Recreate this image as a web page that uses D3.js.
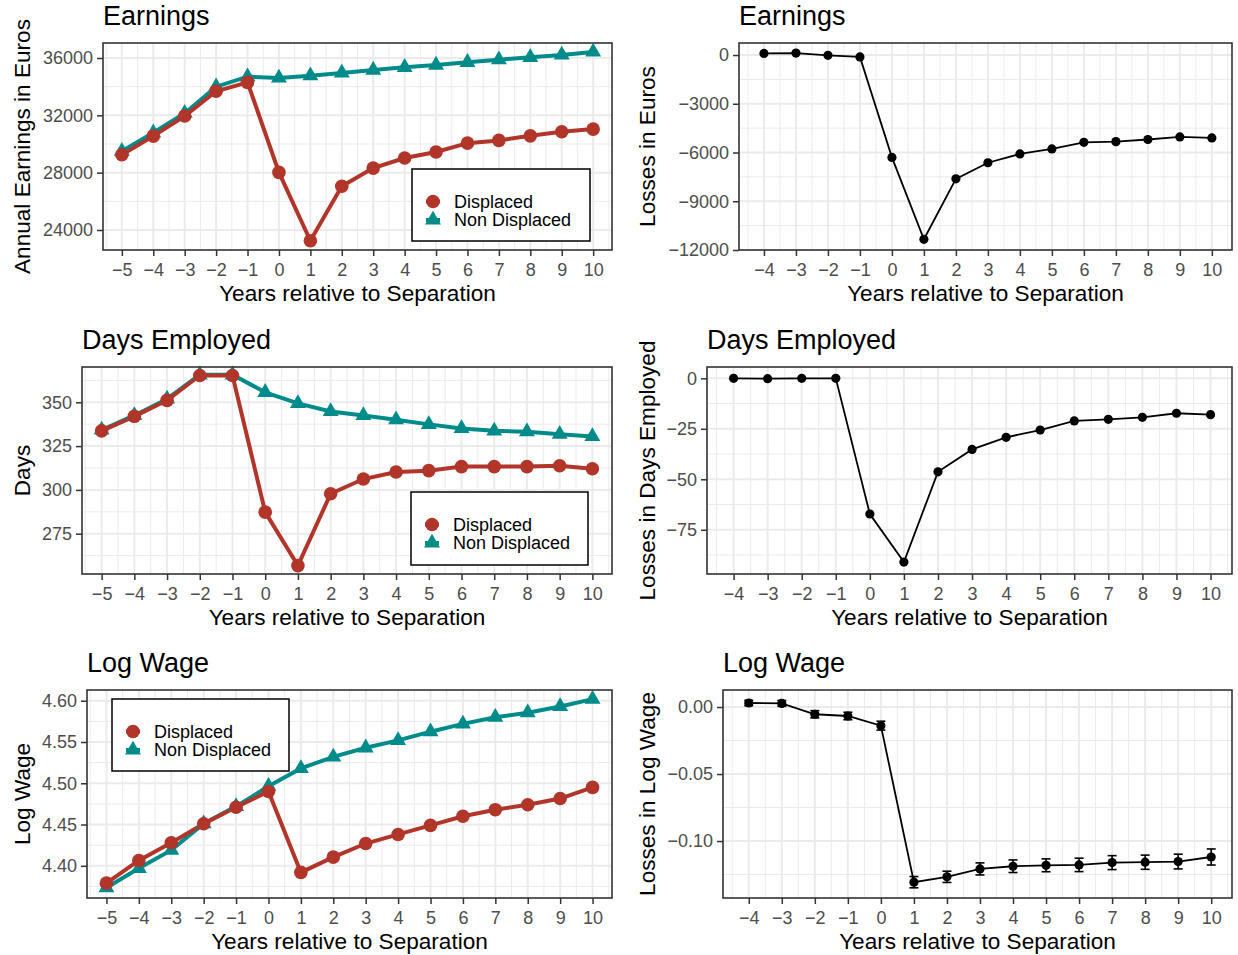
<!DOCTYPE html>
<html>
<head>
<meta charset="utf-8">
<script src="https://cdn.jsdelivr.net/npm/d3@7"></script>
<style>
  body { margin: 0; background: #fff; }
  svg { display: block; font-family: "Liberation Sans", Arial, sans-serif; }
</style>
</head>
<body>
<svg id="chart" width="1238" height="955"></svg>
<script>
// years relative to separation
const yearsLevel = [-5, -4, -3, -2, -1, 0, 1, 2, 3, 4, 5, 6, 7, 8, 9, 10];
const yearsLoss = [-4, -3, -2, -1, 0, 1, 2, 3, 4, 5, 6, 7, 8, 9, 10];

// earnings
const earnDisplaced = [29250, 30550, 31950, 33680, 34300, 28020, 23250, 27050, 28320, 29020, 29440, 30060, 30250, 30570, 30850, 31040];
const earnNonDisplaced = [29500, 30780, 32150, 34000, 34700, 34610, 34770, 34960, 35160, 35350, 35510, 35700, 35880, 36050, 36210, 36420];
const earnLoss = [100, 120, -20, -120, -6300, -11340, -7620, -6630, -6090, -5780, -5370, -5330, -5200, -5040, -5100];

// days employed
const daysDisplaced = [333.7, 342, 351.1, 365.3, 365.3, 287.3, 256.8, 297.8, 306.2, 310.2, 311, 313.3, 313.3, 313.3, 313.8, 312.1];
const daysNonDisplaced = [334.2, 342.5, 351.9, 365.7, 365.7, 355.7, 349.4, 344.8, 342.5, 340.1, 337.4, 335.1, 333.7, 333.2, 331.8, 330.5];
const daysLoss = [0, -0.2, 0, 0, -67.2, -91.0, -46.3, -35.2, -29.2, -25.6, -21.1, -20.3, -19.3, -17.3, -18.0];

// log wage
const wageDisplaced = [4.379, 4.4065, 4.428, 4.451, 4.471, 4.490, 4.392, 4.4105, 4.427, 4.438, 4.449, 4.460, 4.468, 4.474, 4.4815, 4.495];
const wageNonDisplaced = [4.3734, 4.397, 4.419, 4.451, 4.472, 4.4964, 4.518, 4.532, 4.543, 4.552, 4.5625, 4.572, 4.580, 4.5855, 4.593, 4.602];
const wageLoss = [0.0030, 0.0027, -0.0054, -0.0067, -0.0139, -0.1307, -0.1267, -0.1208, -0.1188, -0.1181, -0.1178, -0.1161, -0.1158, -0.1153, -0.1119];
const wageLossSE = [0.002, 0.0022, 0.0027, 0.0028, 0.0033, 0.0042, 0.0042, 0.0045, 0.0047, 0.0048, 0.005, 0.0052, 0.0053, 0.0055, 0.006];

// tick labels
const earnTicks = [24000, 28000, 32000, 36000];
const earnLossTicks = [-12000, -9000, -6000, -3000, 0];
const daysTicks = [275, 300, 325, 350];
const daysLossTicks = [-75, -50, -25, 0];
const wageTicks = [4.40, 4.45, 4.50, 4.55, 4.60];
const wageLossTicks = [-0.10, -0.05, 0.00];

const seriesNames = ["Displaced", "Non Displaced"];
const RED = "#B2352A", TEAL = "#008B8B";

const svg = d3.select("#chart");
svg.append("rect").attr("width", 1238).attr("height", 955).attr("fill", "#fff");

function minorOf(ticks, domain) {
    const step = ticks[1] - ticks[0];
    const out = [];
    for (let i = -1; i < ticks.length; i++) {
        const m = ticks[0] + step * (i + 0.5);
        if (m >= domain[0] && m <= domain[1]) out.push(m);
    }
    return out;
}

function frame(o) {
    const x = d3.scaleLinear().domain(o.xDomain).range([o.box.left, o.box.right]);
    const y = d3.scaleLinear().domain(o.yDomain).range([o.box.bottom, o.box.top]);
    const g = svg.append("g");
    const grid = g.append("g");

    grid.selectAll(".xmin").data(minorOf(o.xTicks, o.xDomain)).join("line")
        .attr("x1", d => x(d)).attr("x2", d => x(d))
        .attr("y1", o.box.top).attr("y2", o.box.bottom)
        .attr("stroke", "#ebebeb").attr("stroke-width", 1);
    grid.selectAll(".ymin").data(minorOf(o.yTicks, o.yDomain)).join("line")
        .attr("y1", d => y(d)).attr("y2", d => y(d))
        .attr("x1", o.box.left).attr("x2", o.box.right)
        .attr("stroke", "#ebebeb").attr("stroke-width", 1);
    grid.selectAll(".xmaj").data(o.xTicks).join("line")
        .attr("x1", d => x(d)).attr("x2", d => x(d))
        .attr("y1", o.box.top).attr("y2", o.box.bottom)
        .attr("stroke", "#ebebeb").attr("stroke-width", 2);
    grid.selectAll(".ymaj").data(o.yTicks).join("line")
        .attr("y1", d => y(d)).attr("y2", d => y(d))
        .attr("x1", o.box.left).attr("x2", o.box.right)
        .attr("stroke", "#ebebeb").attr("stroke-width", 2);

    const data = g.append("g");

    // axes
    const ax = g.append("g").attr("transform", `translate(0,${o.box.bottom})`)
        .call(d3.axisBottom(x).tickValues(o.xTicks).tickSize(6).tickPadding(7).tickFormat(d3.format("d")));
    const ay = g.append("g").attr("transform", `translate(${o.box.left},0)`)
        .call(d3.axisLeft(y).tickValues(o.yTicks).tickSize(6).tickPadding(4).tickFormat(o.yFormat));
    [ax, ay].forEach(a => {
        a.select(".domain").remove();
        a.selectAll(".tick line").attr("stroke", "#333").attr("stroke-width", 1.5);
        a.selectAll(".tick text").attr("fill", "#4d4d4d").attr("font-size", 18)
            .attr("font-family", "'Liberation Sans', Arial, sans-serif");
    });

    g.append("text").attr("x", o.box.left).attr("y", o.box.top - 18)
        .attr("font-size", 27).attr("fill", "#000").text(o.title);
    g.append("text").attr("x", (o.box.left + o.box.right) / 2).attr("y", o.box.bottom + 51)
        .attr("text-anchor", "middle").attr("font-size", 22.6).attr("fill", "#000")
        .text("Years relative to Separation");
    g.append("text")
        .attr("transform", `translate(${o.yLabelX},${(o.box.top + o.box.bottom) / 2}) rotate(-90)`)
        .attr("text-anchor", "middle").attr("dy", "0.35em")
        .attr("font-size", 22.6).attr("fill", "#000").text(o.yLabel);

    const top = g.append("g");
    top.append("rect")
        .attr("x", o.box.left).attr("y", o.box.top)
        .attr("width", o.box.right - o.box.left).attr("height", o.box.bottom - o.box.top)
        .attr("fill", "none").attr("stroke", "#333").attr("stroke-width", 1.6);
    return { x, y, data, top };
}

function levelPanel(o) {
    const { x, y, data, top } = frame(o);
    const rows = [o.displaced, o.nonDisplaced].map(vals =>
        yearsLevel.map((yr, i) => ({ yr, v: vals[i] })));
    const line = d3.line().x(d => x(d.yr)).y(d => y(d.v));
    data.append("path").datum(rows[1]).attr("d", line)
        .attr("fill", "none").attr("stroke", TEAL).attr("stroke-width", 4);
    data.append("path").datum(rows[0]).attr("d", line)
        .attr("fill", "none").attr("stroke", RED).attr("stroke-width", 4);
    const tri = d3.symbol().type(d3.symbolTriangle).size(110);
    data.selectAll(".tri").data(rows[1]).join("path")
        .attr("transform", d => `translate(${x(d.yr)},${y(d.v)})`)
        .attr("d", tri).attr("fill", TEAL);
    data.selectAll(".dot").data(rows[0]).join("circle")
        .attr("cx", d => x(d.yr)).attr("cy", d => y(d.v)).attr("r", 6.8).attr("fill", RED);

    // legend
    const L = o.legend;
    const lg = top.append("g");
    lg.append("rect").attr("x", L.x).attr("y", L.y).attr("width", L.w).attr("height", L.h)
        .attr("fill", "#fff").attr("stroke", "#000").attr("stroke-width", 1.5);
    seriesNames.forEach((name, i) => {
        const cy = L.y + 32.5 + i * 18.5;
        const kx = L.x + 21;
        lg.append("line").attr("x1", kx - 7).attr("x2", kx + 7).attr("y1", cy).attr("y2", cy)
            .attr("stroke", i === 0 ? RED : TEAL).attr("stroke-width", 4);
        if (i === 0) {
            lg.append("circle").attr("cx", kx).attr("cy", cy).attr("r", 6.8).attr("fill", RED);
        } else {
            lg.append("path").attr("transform", `translate(${kx},${cy})`).attr("d", tri).attr("fill", TEAL);
        }
        lg.append("text").attr("x", L.x + 42).attr("y", cy + 6.3)
            .attr("font-size", 18).attr("fill", "#000").text(name);
    });
}

function lossPanel(o) {
    const { x, y, data } = frame(o);
    const rows = yearsLoss.map((yr, i) => ({ yr, v: o.values[i], se: o.se ? o.se[i] : 0 }));
    data.append("path").datum(rows)
        .attr("d", d3.line().x(d => x(d.yr)).y(d => y(d.v)))
        .attr("fill", "none").attr("stroke", "#000").attr("stroke-width", 1.8);
    if (o.se) {
        const eb = data.selectAll(".eb").data(rows).join("g");
        eb.append("line").attr("x1", d => x(d.yr)).attr("x2", d => x(d.yr))
            .attr("y1", d => y(d.v - d.se)).attr("y2", d => y(d.v + d.se))
            .attr("stroke", "#000").attr("stroke-width", 1.6);
        [-1, 1].forEach(s => eb.append("line")
            .attr("x1", d => x(d.yr) - 4.5).attr("x2", d => x(d.yr) + 4.5)
            .attr("y1", d => y(d.v + s * d.se)).attr("y2", d => y(d.v + s * d.se))
            .attr("stroke", "#000").attr("stroke-width", 1.6));
    }
    data.selectAll(".pt").data(rows).join("circle")
        .attr("cx", d => x(d.yr)).attr("cy", d => y(d.v)).attr("r", 4.6).attr("fill", "#000");
}

const levelTicks = yearsLevel, lossTicks = yearsLoss;

levelPanel({
    box: { left: 103, right: 612, top: 43, bottom: 250 },
    xDomain: [-5.6, 10.6], yDomain: [22604, 37047],
    xTicks: levelTicks, yTicks: earnTicks, yFormat: d3.format("d"),
    title: "Earnings", yLabel: "Annual Earnings in Euros", yLabelX: 22,
    displaced: earnDisplaced, nonDisplaced: earnNonDisplaced,
    legend: { x: 412, y: 169, w: 178, h: 72 }
});
lossPanel({
    box: { left: 739, right: 1232, top: 43, bottom: 250 },
    xDomain: [-4.78, 10.63], yDomain: [-12000, 740],
    xTicks: lossTicks, yTicks: earnLossTicks, yFormat: d3.format("d"),
    title: "Earnings", yLabel: "Losses in Euros", yLabelX: 647,
    values: earnLoss
});
levelPanel({
    box: { left: 82, right: 612, top: 367, bottom: 574 },
    xDomain: [-5.6, 10.6], yDomain: [252.0, 370.15],
    xTicks: levelTicks, yTicks: daysTicks, yFormat: d3.format("d"),
    title: "Days Employed", yLabel: "Days", yLabelX: 22,
    displaced: daysDisplaced, nonDisplaced: daysNonDisplaced,
    legend: { x: 411, y: 492, w: 177, h: 73 }
});
lossPanel({
    box: { left: 707, right: 1232, top: 367, bottom: 574 },
    xDomain: [-4.78, 10.63], yDomain: [-96.9, 5.6],
    xTicks: lossTicks, yTicks: daysLossTicks, yFormat: d3.format("d"),
    title: "Days Employed", yLabel: "Losses in Days Employed", yLabelX: 647,
    values: daysLoss
});
levelPanel({
    box: { left: 87, right: 612, top: 690, bottom: 898 },
    xDomain: [-5.6, 10.6], yDomain: [4.361, 4.613],
    xTicks: levelTicks, yTicks: wageTicks, yFormat: d3.format(".2f"),
    title: "Log Wage", yLabel: "Log Wage", yLabelX: 22,
    displaced: wageDisplaced, nonDisplaced: wageNonDisplaced,
    legend: { x: 112, y: 699, w: 177, h: 72 }
});
lossPanel({
    box: { left: 723, right: 1232, top: 690, bottom: 898 },
    xDomain: [-4.78, 10.63], yDomain: [-0.1425, 0.0127],
    xTicks: lossTicks, yTicks: wageLossTicks, yFormat: d3.format(".2f"),
    title: "Log Wage", yLabel: "Losses in Log Wage", yLabelX: 647,
    values: wageLoss, se: wageLossSE
});
</script>
</body>
</html>
